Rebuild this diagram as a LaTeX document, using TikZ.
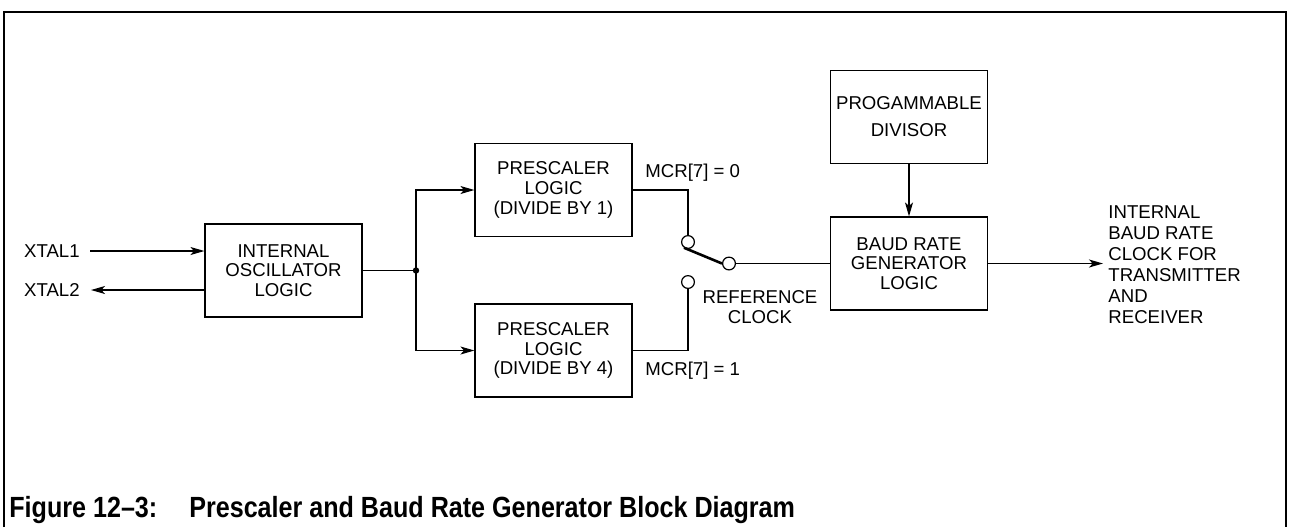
\documentclass[tikz,border=0pt]{standalone}
\usepackage{fontspec}
\setmainfont{Liberation Sans}
\newfontfamily\capfont[FakeStretch=0.86]{Liberation Sans}
\usetikzlibrary{arrows.meta}
\newcommand{\lbl}{\fontsize{9.3}{9.9}\selectfont}
\tikzset{
    blk/.style={draw, line width=0.6pt, minimum width=78.5pt, minimum height=46.5pt, inner sep=0pt, align=center, font=\lbl},
    wire/.style={line width=0.6pt},
    arr/.style={wire, -{Stealth[length=7pt,width=4pt,inset=1.8pt]}},
    sw/.style={circle, draw, line width=0.6pt, minimum size=6.4pt, inner sep=0pt, fill=white},
    txt/.style={font=\lbl, inner sep=0pt}
}
\begin{document}
\begin{tikzpicture}[x=0.5pt,y=-0.5pt]
    \useasboundingbox (0,0) rectangle (1289,527);
    \draw[line width=1.1pt] (4,527) -- (4,12) -- (1286,12) -- (1286,527); %cadre

    \node[blk] (osc) at (283.5,270.5) {INTERNAL\\OSCILLATOR\\LOGIC};
    \node[blk] (preA) at (553.5,190) {PRESCALER\\LOGIC\\(DIVIDE BY 1)};
    \node[blk] (preB) at (553.5,350.5) {PRESCALER\\LOGIC\\(DIVIDE BY 4)};
    \node[blk, align=center, font=\fontsize{9.3}{13.5}\selectfont] (div) at (909,117) {PROGAMMABLE\\DIVISOR};
    \node[blk] (baud) at (909,263.5) {BAUD RATE\\GENERATOR\\LOGIC};

    \node[txt, anchor=east] (x1) at (80,251) {XTAL1};
    \node[txt, anchor=east] (x2) at (80,290) {XTAL2};
    \coordinate (x1a) at (90,251);
    \coordinate (x2a) at (91,290);
    \draw[arr] (x1a) -- (x1a -| osc.west);
    \draw[arr] (x2a -| osc.west) -- (x2a);

    % embranchement
    \coordinate (jn) at (416,270.5);
    \draw[wire] (osc.east) -- (jn);
    \fill (jn) circle (1.6pt);
    \draw[arr] (jn) |- (preA.west);
    \draw[arr] (jn) |- (preB.west);

    % commutateur
    \node[sw] (c1) at (688,242) {};
    \node[sw] (c2) at (729,263.5) {};
    \node[sw] (c3) at (688,282) {};
    \draw[wire] (preA.east) -| (c1.north);
    \draw[wire] (preB.east) -| (c3.south);
    \draw[line width=1.3pt] (c1.235) -- (c2.west);
    \draw[wire] (c2.east) -- (baud.west);
    \node[txt, anchor=west] (m0) at (645,173) {MCR[7] = 0};
    \node[txt, anchor=west] (m1) at (645,371) {MCR[7] = 1};
    \node[txt, align=center] (ref) at (760,307) {REFERENCE\\CLOCK};

    \draw[arr] (div.south) -- (baud.north);
    \coordinate (out) at (1103,263.5);
    \draw[arr] (baud.east) -- (out);
    \node[txt, anchor=west, align=left, font=\fontsize{9.3}{10.5}\selectfont] (rx) at (1108,265) {INTERNAL\\BAUD RATE\\CLOCK FOR\\TRANSMITTER\\AND\\RECEIVER};

    \node[anchor=base west, inner sep=0pt, font=\capfont\bfseries\fontsize{14.6}{16}\selectfont] (cap) at (9,517) {Figure 12–3:\hspace{16pt}Prescaler and Baud Rate Generator Block Diagram};
\end{tikzpicture}
\end{document}
